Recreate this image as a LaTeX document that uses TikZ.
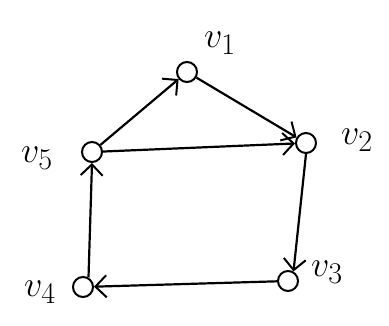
\documentclass[tikz,border=0pt]{standalone}
\usepackage{graphicx}
\usetikzlibrary{arrows.meta}
\newcommand{\biglab}[1]{\scalebox{1.45}{\Huge$#1$}}
\begin{document}
\begin{tikzpicture}[x=1pt,y=-1pt,
  vert/.style={circle,draw,line width=2pt,minimum size=20pt,inner sep=0pt},
  lab/.style={inner sep=0pt},
  edge/.style={line width=2.2pt,-{Straight Barb[length=11pt,width=22pt,line width=2pt]}}]
\useasboundingbox[fill=white] (0,0) rectangle (389,326);
\node[vert] (v1) at (187,72) {};
\node[vert] (v2) at (306,143) {};
\node[vert] (v3) at (288,281) {};
\node[vert] (v4) at (83,287) {};
\node[vert] (v5) at (92,152) {};
\node[lab] (l1) at (220,43) {\biglab{v_1}};
\node[lab] (l2) at (357,140) {\biglab{v_2}};
\node[lab] (l3) at (327,272) {\biglab{v_3}};
\node[lab] (l4) at (40,292) {\biglab{v_4}};
\node[lab] (l5) at (37,158) {\biglab{v_5}};
\draw[edge] (v5) -- (v1);
\draw[edge] (v1) -- (v2);
\draw[edge] (v5) -- (v2);
\draw[edge] (v2.south) -- (v3.60);
\draw[edge] (v3) -- (v4);
\draw[edge] (v4.60) -- (v5.south);
\end{tikzpicture}
\end{document}
